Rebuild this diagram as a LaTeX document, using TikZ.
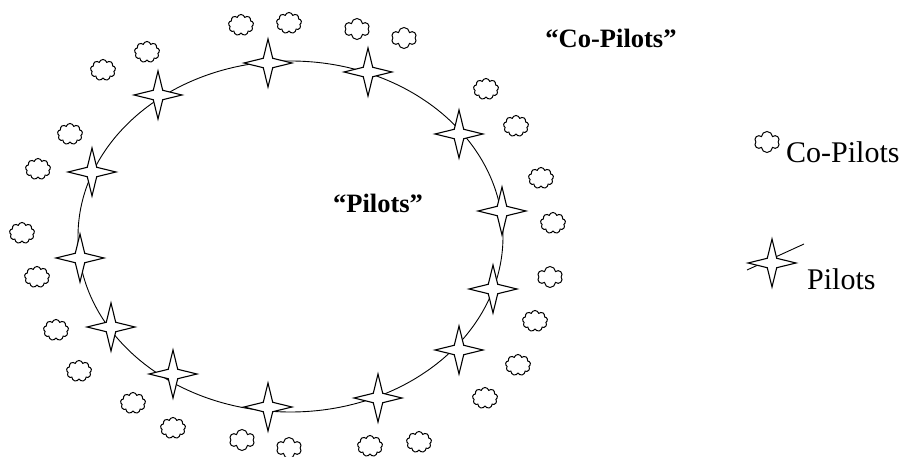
\documentclass[tikz,border=0pt]{standalone}
\usepackage{fontspec}
\setmainfont{Liberation Serif}
\usetikzlibrary{shapes.geometric,shapes.symbols}

\tikzset{
  pilot/.style={star, star points=4, star point ratio=3.6, minimum size=48pt,
    inner sep=0pt, draw, fill=white, line width=1.1pt},
  copilot/.style={cloud, cloud puffs=9, cloud puff arc=150, cloud ignores aspect,
    minimum width=25pt, minimum height=21pt, inner sep=0pt, draw, line width=1pt},
  crosspilot/.style={copilot, cloud puffs=6, cloud puff arc=170}
}

\begin{document}
\begin{tikzpicture}[x=1pt,y=-1pt]
  \useasboundingbox (0,0) rectangle (911,457);
  \node[ellipse, draw, line width=0.9pt, minimum width=425pt, minimum height=351pt,
    inner sep=0pt] (ring) at (290.5,236.5) {};
  %% pilots on the ring
  \node[pilot] (p1)  at (80,258)  {};
  \node[pilot] (p2)  at (92,172)  {};
  \node[pilot] (p3)  at (158,95)  {};
  \node[pilot] (p4)  at (268,63)  {};
  \node[pilot] (p5)  at (368,72)  {};
  \node[pilot] (p6)  at (459,134) {};
  \node[pilot] (p7)  at (502,211) {};
  \node[pilot] (p8)  at (493,289) {};
  \node[pilot] (p9)  at (459,350) {};
  \node[pilot] (p10) at (378,398) {};
  \node[pilot] (p11) at (268,407) {};
  \node[pilot] (p12) at (173,374) {};
  \node[pilot] (p13) at (111,327) {};
  %% co-pilots round the ring
  \node[copilot]    (c1)  at (103,70)  {};   % top left
  \node[copilot]    (c2)  at (147,52)  {};
  \node[copilot]    (c3)  at (241,25)  {};   % top
  \node[copilot]    (c4)  at (289,23)  {};
  \node[crosspilot] (c5)  at (357,29)  {};
  \node[crosspilot] (c6)  at (404,38)  {};
  \node[copilot]    (c7)  at (486,89)  {};   % right
  \node[copilot]    (c8)  at (516,126) {};
  \node[copilot]    (c9)  at (541,178) {};
  \node[copilot]    (c10) at (553,223) {};
  \node[crosspilot] (c11) at (550,277) {};
  \node[copilot]    (c12) at (535,321) {};
  \node[copilot]    (c13) at (518,365) {};
  \node[copilot]    (c14) at (485,398) {};
  \node[copilot]    (c15) at (419,442) {};  % bottom
  \node[copilot]    (c16) at (370,446) {};
  \node[crosspilot] (c17) at (289,448) {};
  \node[crosspilot] (c18) at (242,440) {};
  \node[copilot]    (c19) at (173,428) {};  % left
  \node[copilot]    (c20) at (133,403) {};
  \node[copilot]    (c21) at (79,371)  {};
  \node[copilot]    (c22) at (56,330)  {};
  \node[copilot]    (c23) at (37,277)  {};
  \node[copilot]    (c24) at (22,233)  {};
  \node[copilot]    (c25) at (38,169)  {};
  \node[copilot]    (c26) at (70,134)  {};
  %% group labels
  \node[anchor=base] (inner) at (378,213) {\fontsize{26.5}{30}\selectfont\bfseries “Pilots”};
  \node[anchor=base] (outer) at (611,48)  {\fontsize{26.5}{30}\selectfont\bfseries “Co-Pilots”};
  %% legend
  \node[crosspilot] (kc) at (767,142) {};
  \node[anchor=base west, inner sep=0pt] (kct) at (786,163) {\fontsize{30}{34}\selectfont Co-Pilots};
  \coordinate (ka) at (747,270);
  \coordinate (kb) at (804,244);
  \draw[line width=0.9pt] (ka) -- (kb);
  \node[pilot] (kp) at (772,263) {};
  \node[anchor=base west, inner sep=0pt] (kpt) at (807,290) {\fontsize{30}{34}\selectfont Pilots};
\end{tikzpicture}
\end{document}
